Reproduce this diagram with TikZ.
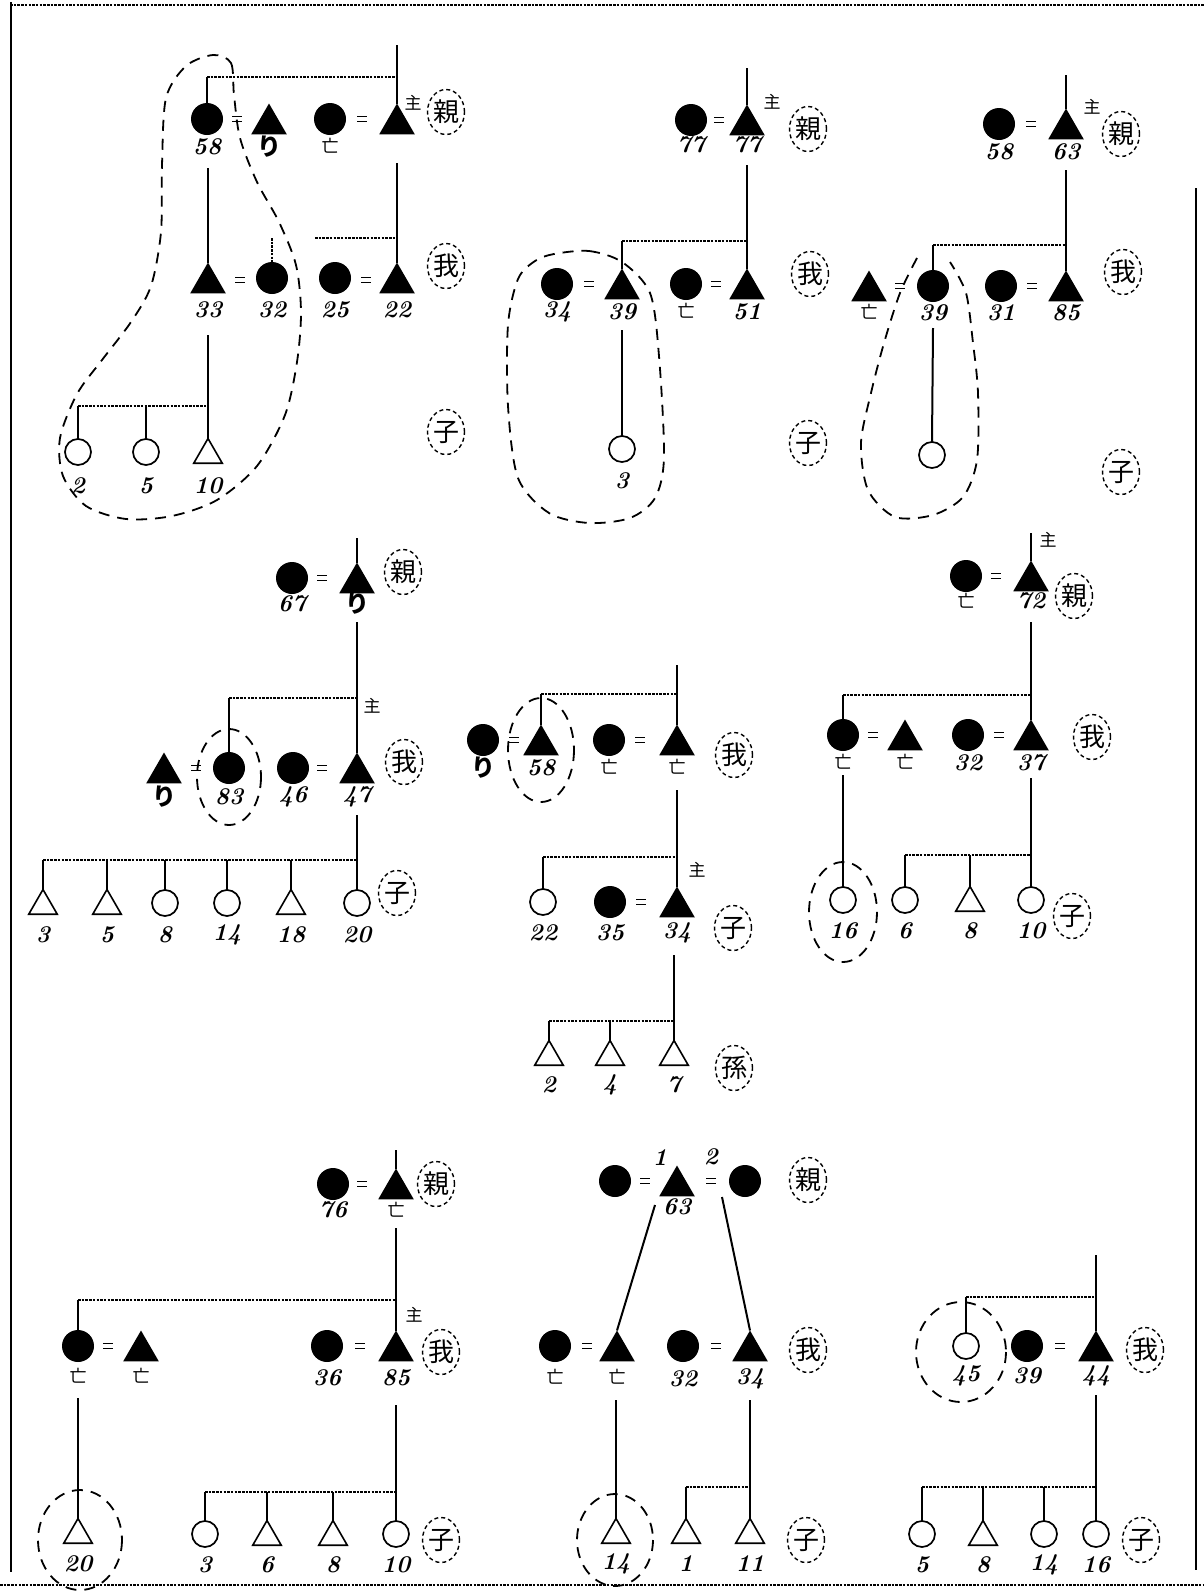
\documentclass[tikz,border=0pt]{standalone}
\usepackage{fontspec}
\newfontfamily\cjk{Noto Sans CJK JP}
\usetikzlibrary{shapes.geometric}
\newcommand\marmark[2]{\draw[marr] (#1-5,#2-2.5) -- (#1+5,#2-2.5) (#1-5,#2+2.5) -- (#1+5,#2+2.5);}
\begin{document}
\begin{tikzpicture}[x=1pt,y=-1pt,
 fc/.style={circle,fill=black,minimum size=32pt,inner sep=0pt,outer sep=0pt},
 oc/.style={circle,draw=black,line width=1.7pt,minimum size=26pt,inner sep=0pt,outer sep=0pt},
 ft/.style={regular polygon,regular polygon sides=3,fill=black,minimum size=41pt,inner sep=0pt,outer sep=0pt},
 ot/.style={regular polygon,regular polygon sides=3,draw=black,line width=1.6pt,minimum size=33pt,inner sep=0pt,outer sep=0pt},
 num/.style={font=\fontsize{24}{24}\selectfont\bfseries\itshape,inner sep=0pt},
 dead/.style={font=\cjk\fontsize{17}{17}\selectfont,inner sep=0pt},
 hd/.style={font=\cjk\fontsize{17}{17}\selectfont,inner sep=0pt},
 gen/.style={draw,ellipse,dash pattern=on 4pt off 3pt,line width=1.4pt,minimum width=37pt,minimum height=45pt,inner sep=0pt,font=\cjk\fontsize{26}{26}\selectfont},
 sib/.style={dash pattern=on 2.5pt off 1.2pt,line width=1.9pt},
 desc/.style={line width=2pt},
 loopd/.style={dash pattern=on 11pt off 8pt,line width=1.8pt},
 marr/.style={line width=1.3pt}
]
\useasboundingbox (0,0) rectangle (1204,1593);
% frame
\coordinate (fr1) at (10,5); \coordinate (fr2) at (1204,5);
\coordinate (fr3) at (0,1585); \coordinate (fr4) at (1204,1585);
\coordinate (fl1) at (11,2); \coordinate (fl2) at (11,1572);
\coordinate (frr1) at (1196,188); \coordinate (frr2) at (1196,1570);
\draw[sib] (fr1) -- (fr2);
\draw[sib] (fr3) -- (fr4);
\draw[line width=2pt] (fl1) -- (fl2);
\draw[line width=2pt] (frr1) -- (frr2);

% ================= Panel 1 =================
\node[fc] (a58) at (207,119) {};
\node[ft] (ari) at (269,124) {};
\node[fc] (abo) at (330,119) {};
\node[ft] (ahd) at (397,124) {};
\marmark{237}{119} \marmark{362}{119}
\node[num] (la58) at (207,147) {58};
\node[num] (lari) at (269,147) {\cjk り};
\node[dead] (labo) at (330,146) {亡};
\node[hd] (hda) at (413,103) {主};
\node[gen] (ga1) at (446,112) {親};
\coordinate (atop) at (397,45);
\coordinate (as1l) at (207,77); \coordinate (as1r) at (397,77);
\draw[desc] (atop) -- (ahd.north);
\draw[sib] (as1l) -- (as1r);
\draw[desc] (as1l) -- (a58.north);
\node[ft] (a33) at (208,283) {};
\node[fc] (a32) at (272,278) {};
\node[fc] (a25) at (335,278) {};
\node[ft] (a22) at (397,283) {};
\marmark{240}{280} \marmark{366}{280}
\node[num] (la33) at (208,310) {33};
\node[num] (la32) at (272,310) {32};
\node[num] (la25) at (335,310) {25};
\node[num] (la22) at (397,310) {22};
\node[gen] (ga2) at (446,266) {我};
\coordinate (ad1) at (208,168); \draw[desc] (ad1) -- (a33.north);
\coordinate (ad2) at (397,163); \draw[desc] (ad2) -- (a22.north);
\coordinate (as2l) at (315,238); \coordinate (as2r) at (397,238); \draw[sib] (as2l) -- (as2r);
\coordinate (as2s) at (272,238); \draw[sib] (as2s) -- (a32.north);
\node[oc] (a2) at (78,452) {};
\node[oc] (a5) at (146,452) {};
\node[ot] (a10) at (208,455) {};
\node[num] (la2) at (78,486) {2};
\node[num] (la5) at (146,486) {5};
\node[num] (la10) at (208,486) {10};
\coordinate (ad3) at (208,335); \draw[desc] (ad3) -- (a10.north);
\coordinate (as3l) at (78,406); \coordinate (as3r) at (208,406); \draw[sib] (as3l) -- (as3r);
\coordinate (as3m) at (146,406);
\draw[desc] (as3l) -- (a2.north); \draw[desc] (as3m) -- (a5.north);
\node[gen] (ga3) at (446,432) {子};
\draw[loopd] plot[smooth cycle] coordinates {(213,55) (231,63) (234,95) (240,138) (257,182) (279,222) (296,265) (301,312) (297,362) (285,415) (257,466) (217,500) (172,516) (126,519) (86,506) (63,476) (60,438) (77,394) (102,360) (131,322) (151,286) (161,232) (162,165) (166,98) (186,66)};

% ================= Panel 2 =================
\node[fc] (b77w) at (691,120) {};
\node[ft] (b77h) at (747,125) {};
\marmark{719}{120}
\node[num] (lb77w) at (691,145) {77};
\node[num] (lb77h) at (747,145) {77};
\node[hd] (hdb) at (772,102) {主};
\node[gen] (gb1) at (808,129) {親};
\coordinate (btop) at (747,68); \draw[desc] (btop) -- (b77h.north);
\node[fc] (b34) at (557,284) {};
\node[ft] (b39) at (622,289) {};
\node[fc] (bbo) at (686,284) {};
\node[ft] (b51) at (747,289) {};
\marmark{589}{284} \marmark{716}{284}
\node[num] (lb34) at (557,312) {34};
\node[num] (lb39) at (622,312) {39};
\node[dead] (lbbo) at (686,311) {亡};
\node[num] (lb51) at (747,312) {51};
\node[gen] (gb2) at (810,274) {我};
\coordinate (bd1) at (747,165); \draw[desc] (bd1) -- (b51.north);
\coordinate (bs1l) at (622,241); \coordinate (bs1r) at (747,241); \draw[sib] (bs1l) -- (bs1r);
\draw[desc] (bs1l) -- (b39.north);
\node[oc] (b3) at (622,449) {};
\node[num] (lb3) at (622,481) {3};
\coordinate (bd2) at (622,330); \draw[desc] (bd2) -- (b3.north);
\node[gen] (gb3) at (808,443) {子};
\draw[loopd] plot[smooth cycle] coordinates {(554,254) (589,251) (622,262) (650,293) (659,356) (664,457) (655,498) (630,518) (589,523) (549,513) (518,478) (508,406) (508,325) (518,279) (535,261)};

% ================= Panel 3 =================
\node[fc] (c58) at (999,124) {};
\node[ft] (c63) at (1066,129) {};
\marmark{1031}{124}
\node[num] (lc58) at (999,152) {58};
\node[num] (lc63) at (1066,152) {63};
\node[hd] (hdc) at (1092,107) {主};
\node[gen] (gc1) at (1121,134) {親};
\coordinate (ctop) at (1066,75); \draw[desc] (ctop) -- (c63.north);
\node[ft] (cbo) at (869,291) {};
\node[fc] (c39) at (933,286) {};
\node[fc] (c31) at (1001,286) {};
\node[ft] (c85) at (1066,291) {};
\marmark{900}{286} \marmark{1032}{286}
\node[dead] (lcbo) at (869,312) {亡};
\node[num] (lc39) at (933,313) {39};
\node[num] (lc31) at (1001,313) {31};
\node[num] (lc85) at (1066,313) {85};
\node[gen] (gc2) at (1123,272) {我};
\coordinate (cd1) at (1066,170); \draw[desc] (cd1) -- (c85.north);
\coordinate (cs1l) at (933,245); \coordinate (cs1r) at (1066,245); \draw[sib] (cs1l) -- (cs1r);
\draw[desc] (cs1l) -- (c39.north);
\node[oc] (cch) at (932,455) {};
\coordinate (cd2) at (933,328); \draw[desc] (cd2) -- (cch.north);
\node[gen] (gc3) at (1121,472) {子};
\draw[loopd] plot[smooth] coordinates {(917,258) (900,293) (884,343) (871,393) (861,443) (868,490) (895,517) (933,515) (963,497) (977,460) (978,393) (973,343) (966,293) (950,262)};

% ================= Panel 4 =================
\node[fc] (d67) at (292,578) {};
\node[ft] (dri) at (357,583) {};
\marmark{322}{578}
\node[num] (ld67) at (292,604) {67};
\node[num] (ldri) at (357,604) {\cjk り};
\node[gen] (gd1) at (403,572) {親};
\coordinate (dtop) at (357,538); \draw[desc] (dtop) -- (dri.north);
\node[ft] (dri2) at (164,773) {};
\node[fc] (d83) at (229,768) {};
\node[fc] (d46) at (293,768) {};
\node[ft] (d47) at (357,773) {};
\marmark{196}{768} \marmark{322}{768}
\node[num] (ldri2) at (164,797) {\cjk り};
\node[num] (ld83) at (229,797) {83};
\node[num] (ld46) at (293,797) {46};
\node[num] (ld47) at (357,797) {47};
\node[hd] (hdd) at (372,706) {主};
\node[gen] (gd2) at (404,762) {我};
\coordinate (dd1) at (357,622); \draw[desc] (dd1) -- (d47.north);
\coordinate (ds1l) at (229,698); \coordinate (ds1r) at (357,698); \draw[sib] (ds1l) -- (ds1r);
\draw[desc] (ds1l) -- (d83.north);
\draw[loopd] (229,777) ellipse [x radius=32, y radius=48];
\node[ot] (d3) at (43,906) {};
\node[ot] (d5) at (107,906) {};
\node[oc] (d8) at (165,903) {};
\node[oc] (d14) at (227,903) {};
\node[ot] (d18) at (291,906) {};
\node[oc] (d20) at (357,903) {};
\node[num] (ld3) at (43,935) {3};
\node[num] (ld5) at (107,935) {5};
\node[num] (ld8) at (165,935) {8};
\node[num] (ld14) at (227,935) {14};
\node[num] (ld18) at (291,935) {18};
\node[num] (ld20) at (357,935) {20};
\coordinate (dd2) at (357,815); \draw[desc] (dd2) -- (d20.north);
\coordinate (ds2l) at (43,860); \coordinate (ds2r) at (357,860); \draw[sib] (ds2l) -- (ds2r);
\coordinate (ds2a) at (107,860); \coordinate (ds2b) at (165,860); \coordinate (ds2c) at (227,860); \coordinate (ds2d) at (291,860);
\draw[desc] (ds2l) -- (d3.north); \draw[desc] (ds2a) -- (d5.north); \draw[desc] (ds2b) -- (d8.north);
\draw[desc] (ds2c) -- (d14.north); \draw[desc] (ds2d) -- (d18.north);
\node[gen] (gd3) at (397,893) {子};

% ================= Panel 5 =================
\node[fc] (eri) at (483,740) {};
\node[ft] (e58) at (541,745) {};
\node[fc] (ebo) at (609,740) {};
\node[ft] (ebh) at (677,745) {};
\marmark{514}{740} \marmark{640}{740}
\node[num] (leri) at (483,768) {\cjk り};
\node[num] (le58) at (541,768) {58};
\node[dead] (lebo) at (609,767) {亡};
\node[dead] (lebh) at (677,767) {亡};
\node[gen] (ge1) at (734,755) {我};
\coordinate (etop) at (677,665); \draw[desc] (etop) -- (ebh.north);
\coordinate (es1l) at (541,694); \coordinate (es1r) at (677,694); \draw[sib] (es1l) -- (es1r);
\draw[desc] (es1l) -- (e58.north);
\draw[loopd] (541,750) ellipse [x radius=33, y radius=52];
\node[oc] (e22) at (543,902) {};
\node[fc] (e35) at (610,902) {};
\node[ft] (e34) at (677,907) {};
\marmark{641}{902}
\node[num] (le22) at (543,933) {22};
\node[num] (le35) at (610,933) {35};
\node[num] (le34) at (677,933) {34};
\node[hd] (hde) at (697,870) {主};
\node[gen] (ge2) at (733,928) {子};
\coordinate (ed1) at (677,790); \draw[desc] (ed1) -- (e34.north);
\coordinate (es2l) at (543,857); \coordinate (es2r) at (677,857); \draw[sib] (es2l) -- (es2r);
\draw[desc] (es2l) -- (e22.north);
\node[ot] (e2) at (549,1057) {};
\node[ot] (e4) at (610,1057) {};
\node[ot] (e7) at (674,1057) {};
\node[num] (le2) at (549,1085) {2};
\node[num] (le4) at (610,1085) {4};
\node[num] (le7) at (674,1085) {7};
\coordinate (ed2) at (674,955); \draw[desc] (ed2) -- (e7.north);
\coordinate (es3l) at (549,1021); \coordinate (es3r) at (674,1021); \draw[sib] (es3l) -- (es3r);
\coordinate (es3m) at (610,1021);
\draw[desc] (es3l) -- (e2.north); \draw[desc] (es3m) -- (e4.north);
\node[gen] (ge3) at (734,1068) {孫};

% ================= Panel 6 =================
\node[fc] (fbo) at (966,576) {};
\node[ft] (f72) at (1031,581) {};
\marmark{996}{576}
\node[dead] (lfbo) at (966,601) {亡};
\node[num] (lf72) at (1031,601) {72};
\node[hd] (hdf) at (1048,540) {主};
\node[gen] (gf1) at (1074,596) {親};
\coordinate (ftop) at (1031,533); \draw[desc] (ftop) -- (f72.north);
\node[fc] (fbo2) at (843,735) {};
\node[ft] (fbo3) at (905,740) {};
\node[fc] (f32) at (968,735) {};
\node[ft] (f37) at (1031,740) {};
\marmark{873}{735} \marmark{999}{735}
\node[dead] (lfbo2) at (843,762) {亡};
\node[dead] (lfbo3) at (905,762) {亡};
\node[num] (lf32) at (968,763) {32};
\node[num] (lf37) at (1031,763) {37};
\node[gen] (gf2) at (1092,737) {我};
\coordinate (fd1) at (1031,622); \draw[desc] (fd1) -- (f37.north);
\coordinate (fs1l) at (843,695); \coordinate (fs1r) at (1031,695); \draw[sib] (fs1l) -- (fs1r);
\draw[desc] (fs1l) -- (fbo2.north);
\node[oc] (f16) at (843,900) {};
\node[num] (lf16) at (843,931) {16};
\coordinate (fd2) at (843,775); \draw[desc] (fd2) -- (f16.north);
\draw[loopd] (843,912) ellipse [x radius=34, y radius=50];
\node[oc] (f6) at (905,900) {};
\node[ot] (f8) at (970,903) {};
\node[oc] (f10) at (1031,900) {};
\node[num] (lf6) at (905,931) {6};
\node[num] (lf8) at (970,931) {8};
\node[num] (lf10) at (1031,931) {10};
\coordinate (fd3) at (1031,778); \draw[desc] (fd3) -- (f10.north);
\coordinate (fs2l) at (905,855); \coordinate (fs2r) at (1031,855); \draw[sib] (fs2l) -- (fs2r);
\coordinate (fs2m) at (970,855);
\draw[desc] (fs2l) -- (f6.north); \draw[desc] (fs2m) -- (f8.north);
\node[gen] (gf3) at (1072,916) {子};

% ================= Panel 7 =================
\node[fc] (g76) at (333,1184) {};
\node[ft] (gbo) at (396,1189) {};
\marmark{362}{1184}
\node[num] (lg76) at (333,1210) {76};
\node[dead] (lgbo) at (396,1210) {亡};
\node[gen] (gg1) at (436,1184) {親};
\coordinate (gtop) at (396,1150); \draw[desc] (gtop) -- (gbo.north);
\node[fc] (gbo2) at (78,1346) {};
\node[ft] (gbo3) at (141,1351) {};
\node[fc] (g36) at (327,1346) {};
\node[ft] (g85) at (396,1351) {};
\marmark{108}{1346} \marmark{360}{1346}
\node[dead] (lgbo2) at (78,1376) {亡};
\node[dead] (lgbo3) at (141,1376) {亡};
\node[num] (lg36) at (327,1378) {36};
\node[num] (lg85) at (396,1378) {85};
\node[hd] (hdg) at (414,1315) {主};
\node[gen] (gg2) at (441,1352) {我};
\coordinate (gd1) at (396,1228); \draw[desc] (gd1) -- (g85.north);
\coordinate (gs1l) at (78,1300); \coordinate (gs1r) at (396,1300); \draw[sib] (gs1l) -- (gs1r);
\draw[desc] (gs1l) -- (gbo2.north);
\node[ot] (g20) at (78,1535) {};
\node[num] (lg20) at (78,1564) {20};
\coordinate (gd2) at (78,1398); \draw[desc] (gd2) -- (g20.north);
\draw[loopd] (80,1540) ellipse [x radius=42, y radius=50];
\node[oc] (g3) at (205,1534) {};
\node[ot] (g6) at (267,1537) {};
\node[ot] (g8) at (333,1537) {};
\node[oc] (g10) at (396,1534) {};
\node[num] (lg3) at (205,1565) {3};
\node[num] (lg6) at (267,1565) {6};
\node[num] (lg8) at (333,1565) {8};
\node[num] (lg10) at (396,1565) {10};
\coordinate (gd3) at (396,1405); \draw[desc] (gd3) -- (g10.north);
\coordinate (gs2l) at (205,1492); \coordinate (gs2r) at (396,1492); \draw[sib] (gs2l) -- (gs2r);
\coordinate (gs2a) at (267,1492); \coordinate (gs2b) at (333,1492);
\draw[desc] (gs2l) -- (g3.north); \draw[desc] (gs2a) -- (g6.north); \draw[desc] (gs2b) -- (g8.north);
\node[gen] (gg3) at (441,1540) {子};

% ================= Panel 8 =================
\node[fc] (hw1) at (615,1181) {};
\node[ft] (h63) at (677,1186) {};
\node[fc] (hw2) at (745,1181) {};
\marmark{645}{1181} \marmark{711}{1181}
\node[num] (lh1) at (660,1158) {1};
\node[num] (lh2) at (711,1157) {2};
\node[num] (lh63) at (677,1207) {63};
\node[gen] (gh1) at (808,1180) {親};
\node[fc] (hbo) at (555,1346) {};
\node[ft] (hbo2) at (617,1351) {};
\node[fc] (h32) at (683,1346) {};
\node[ft] (h34) at (750,1351) {};
\marmark{587}{1346} \marmark{716}{1346}
\node[dead] (lhbo) at (555,1377) {亡};
\node[dead] (lhbo2) at (617,1377) {亡};
\node[num] (lh32) at (683,1379) {32};
\node[num] (lh34) at (750,1379) {34};
\node[gen] (gh2) at (808,1350) {我};
\coordinate (hd1) at (655,1205); \draw[desc] (hd1) -- (hbo2.north);
\coordinate (hd2) at (722,1197); \draw[desc] (hd2) -- (h34.north);
\node[ot] (h14) at (616,1535) {};
\node[num] (lh14) at (616,1564) {14};
\coordinate (hd3) at (616,1400); \draw[desc] (hd3) -- (h14.north);
\draw[loopd] (615,1540) ellipse [x radius=38, y radius=46];
\node[ot] (h1) at (686,1535) {};
\node[ot] (h11) at (750,1535) {};
\node[num] (lh1c) at (686,1564) {1};
\node[num] (lh11) at (750,1564) {11};
\coordinate (hd4) at (750,1400); \draw[desc] (hd4) -- (h11.north);
\coordinate (hs1l) at (686,1487); \coordinate (hs1r) at (750,1487); \draw[sib] (hs1l) -- (hs1r);
\draw[desc] (hs1l) -- (h1.north);
\node[gen] (gh3) at (806,1540) {子};

% ================= Panel 9 =================
\node[oc] (i45) at (966,1346) {};
\node[fc] (i39) at (1027,1346) {};
\node[ft] (i44) at (1096,1351) {};
\marmark{1060}{1346}
\node[num] (li45) at (966,1376) {45};
\node[num] (li39) at (1027,1376) {39};
\node[num] (li44) at (1096,1376) {44};
\node[gen] (gi1) at (1145,1350) {我};
\coordinate (itop) at (1096,1255); \draw[desc] (itop) -- (i44.north);
\coordinate (is1l) at (966,1297); \coordinate (is1r) at (1096,1297); \draw[sib] (is1l) -- (is1r);
\draw[desc] (is1l) -- (i45.north);
\draw[loopd] (961,1352) ellipse [x radius=45, y radius=50];
\node[oc] (i5) at (922,1534) {};
\node[ot] (i8) at (983,1537) {};
\node[oc] (i14) at (1044,1534) {};
\node[oc] (i16) at (1096,1534) {};
\node[num] (li5) at (922,1565) {5};
\node[num] (li8) at (983,1565) {8};
\node[num] (li14) at (1044,1565) {14};
\node[num] (li16) at (1096,1565) {16};
\coordinate (id1) at (1096,1395); \draw[desc] (id1) -- (i16.north);
\coordinate (is2l) at (922,1487); \coordinate (is2r) at (1096,1487); \draw[sib] (is2l) -- (is2r);
\coordinate (is2a) at (983,1487); \coordinate (is2b) at (1044,1487);
\draw[desc] (is2l) -- (i5.north); \draw[desc] (is2a) -- (i8.north); \draw[desc] (is2b) -- (i14.north);
\node[gen] (gi2) at (1141,1540) {子};
\end{tikzpicture}
\end{document}
